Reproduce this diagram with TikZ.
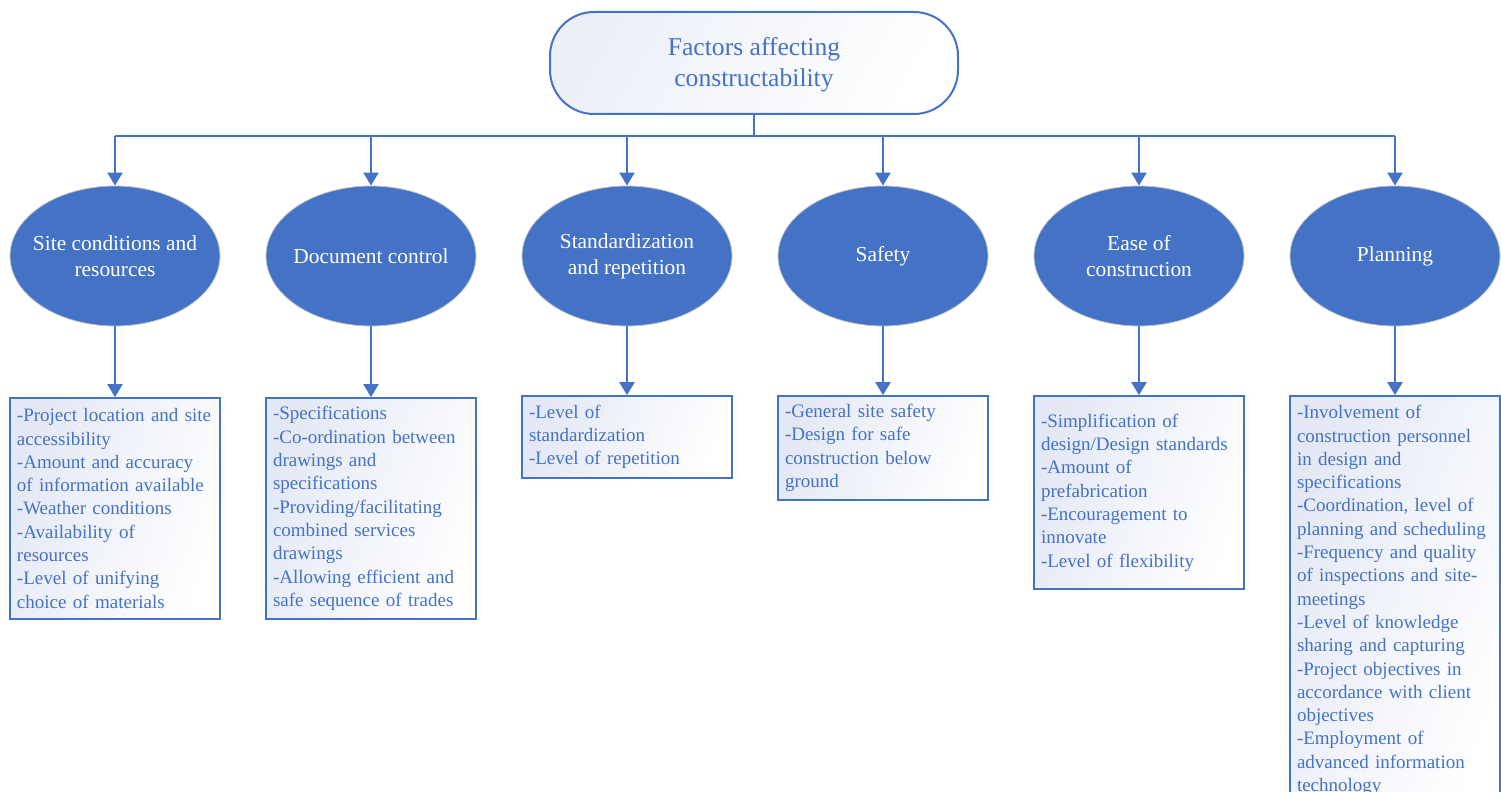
\documentclass[tikz,border=0pt]{standalone}
\usepackage{fontspec}
\setmainfont{Liberation Serif}
\usetikzlibrary{arrows.meta,shapes.geometric}
\definecolor{accent}{HTML}{4472C4}
\definecolor{tint}{HTML}{E3E8F4}
\begin{document}
\begin{tikzpicture}[x=0.5pt,y=-0.5pt,
  rootbox/.style={draw=accent,line width=1pt,rounded corners=22pt,
    minimum width=204pt,minimum height=51pt,inner sep=0pt,
    left color=tint!70,right color=white,shading angle=60,
    text=accent,align=center,font=\fontsize{12.8}{15.5}\selectfont},
  factor/.style={ellipse,draw=gray!45,line width=0.4pt,fill=accent,
    minimum width=105pt,minimum height=70pt,inner sep=0pt},
  factortext/.style={text=white,align=center,inner sep=0pt,
    font=\fontsize{10.7}{13}\selectfont},
  itembox/.style={draw=accent,line width=0.8pt,
    left color=tint,right color=white,shading angle=70,
    minimum width=105pt,text width=98pt,inner xsep=3.5pt,inner ysep=0pt,
    text=accent,align=left,font=\fontsize{9.5}{11.65}\selectfont,
    execute at begin node={\hyphenpenalty=10000 \exhyphenpenalty=10000 }},
  link/.style={draw=accent,line width=1pt},
  arr/.style={link,-{Triangle[length=6.5pt,width=7.5pt]}}]
\useasboundingbox (0,0) rectangle (1501,792);
\clip (0,0) rectangle (1501,792);

% root
\node[rootbox] (root) at (754,63) {\rule{0pt}{11pt}Factors affecting\\constructability};

% factor ellipses
\node[factor,label={[factortext]center:Site conditions and\\resources}] (e1) at (115,256) {};
\node[factor,label={[factortext]center:Document control}] (e2) at (371,256) {};
\node[factor,label={[factortext]center:Standardization\\and repetition}] (e3) at (627,256) {};
\node[factor,label={[factortext]center:Safety}] (e4) at (883,256) {};
\node[factor,label={[factortext]center:Ease of\\construction}] (e5) at (1139,256) {};
\node[factor,label={[factortext]center:Planning}] (e6) at (1395,256) {};

% detail boxes
\node[itembox,minimum height=110.5pt] (b1) at (115,508.5) {-Project location and site\\accessibility\\-Amount and accuracy\\of information available\\-Weather conditions\\-Availability of\\resources\\-Level of unifying\\choice of materials};
\node[itembox,minimum height=110.5pt] (b2) at (371,508.5) {-Specifications\\-Co-ordination between\\drawings and\\specifications\\-Providing/facilitating\\combined services\\drawings\\-Allowing efficient and\\safe sequence of trades};
\node[itembox,minimum height=41pt] (b3) at (627,437) {-Level of\\standardization\\-Level of repetition};
\node[itembox,minimum height=52pt] (b4) at (883,448) {-General site safety\\-Design for safe\\construction below\\ground};
\node[itembox,minimum height=96.5pt] (b5) at (1139,492.5) {-Simplification of\\design/Design standards\\-Amount of\\prefabrication\\-Encouragement to\\innovate\\-Level of flexibility};
\node[itembox,minimum height=204.5pt] (b6) at (1395,600.5) {-Involvement of\\construction personnel\\in design and\\specifications\\-Coordination, level of\\planning and scheduling\\-Frequency and quality\\of inspections and site-\\meetings\\-Level of knowledge\\sharing and capturing\\-Project objectives in\\accordance with client\\objectives\\-Employment of\\advanced information\\technology};

% distribution bus
\coordinate (bus) at (754,136);
\draw[link] (root.south) -- (bus);
\draw[link] (bus -| e1.north) -- (bus -| e6.north);
\foreach \i in {1,...,6} {
  \draw[arr] (bus -| e\i.north) -- (e\i.north);
  \draw[arr] (e\i.south) -- (b\i.north);
}
\end{tikzpicture}
\end{document}
